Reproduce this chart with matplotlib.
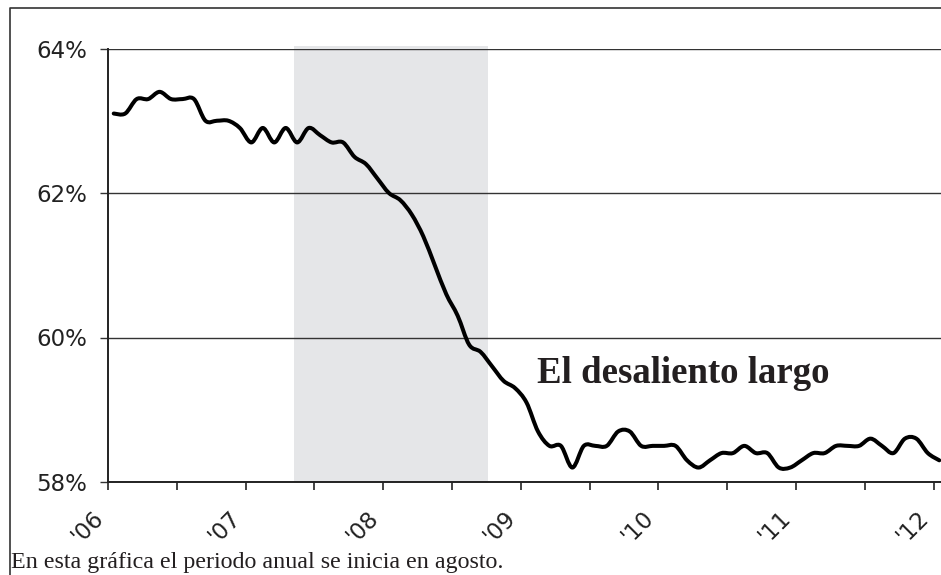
import numpy as np
import matplotlib
matplotlib.use("Agg")
import matplotlib.pyplot as plt
from matplotlib.lines import Line2D
from matplotlib.path import Path
from matplotlib.patches import PathPatch

# Employment-population ratio (%), monthly, Aug 2006 .. Aug 2012
values = [63.1, 63.1, 63.3, 63.3, 63.4, 63.3, 63.3, 63.3, 63.0, 63.0, 63.0, 62.9,
          62.7, 62.9, 62.7, 62.9, 62.7, 62.9, 62.8, 62.7, 62.7, 62.5, 62.4, 62.2,
          62.0, 61.9, 61.7, 61.4, 61.0, 60.6, 60.3, 59.9, 59.8, 59.6, 59.4, 59.3,
          59.1, 58.7, 58.5, 58.5, 58.2, 58.5, 58.5, 58.5, 58.7, 58.7, 58.5, 58.5,
          58.5, 58.5, 58.3, 58.2, 58.3, 58.4, 58.4, 58.5, 58.4, 58.4, 58.2, 58.2,
          58.3, 58.4, 58.4, 58.5, 58.5, 58.5, 58.6, 58.5, 58.4, 58.6, 58.6, 58.4,
          58.3]
year_labels = ["'06", "'07", "'08", "'09", "'10", "'11", "'12"]
y_ticks = [58, 60, 62, 64]
recession = (16.2, 33.1)  # months since Aug 2006

months = np.arange(len(values)) + 0.5
vals = np.asarray(values, dtype=float)

W, H = 941, 575
fig = plt.figure(figsize=(W / 100, H / 100), dpi=100)
ax = fig.add_axes([108 / W, 1 - 482 / H, (W - 108) / W, (482 - 48.5) / H])

ax.axvspan(recession[0], recession[1], ymin=0, ymax=1.006, color="#e5e6e8",
           lw=0, zorder=0, clip_on=False)

# smoothed line (Excel-style): cubic Bezier segments through every data point
pts = np.column_stack([months, vals])
ext = np.vstack([pts[0], pts, pts[-1]])
verts = [tuple(pts[0])]
codes = [Path.MOVETO]
for i in range(len(pts) - 1):
    p0, p1, p2, p3 = ext[i], ext[i + 1], ext[i + 2], ext[i + 3]
    c1 = p1 + (p2 - p0) / 6.0
    c2 = p2 - (p3 - p1) / 6.0
    verts += [tuple(c1), tuple(c2), tuple(p2)]
    codes += [Path.CURVE4, Path.CURVE4, Path.CURVE4]
curve = PathPatch(Path(verts, codes), facecolor="none", edgecolor="black",
                  lw=2.9, joinstyle="round", capstyle="round", zorder=3,
                  transform=ax.transData)
ax.add_patch(curve)

ax.set_xlim(0, 72.65)
ax.set_ylim(58, 64)

ax.set_yticks(y_ticks)
ax.set_yticklabels([f"{v}%" for v in y_ticks], fontsize=16.5, family="DejaVu Sans",
                   color="#222222")
ax.yaxis.grid(True, color="#333333", lw=1.0)
ax.set_axisbelow(True)

ax.set_xticks(np.arange(0, 73, 12))
ax.set_xticks(np.arange(6, 73, 12), minor=True)
ax.set_xticklabels(year_labels, rotation=45, ha="right", fontsize=16.5,
                   family="DejaVu Sans", color="#222222")
ax.tick_params(axis="x", which="both", direction="out", length=5.5, width=1.2,
               color="#222222", pad=12)
ax.tick_params(axis="y", direction="out", length=5.8, width=1.0, color="#333333",
               pad=9)

for s in ["top", "right"]:
    ax.spines[s].set_visible(False)
ax.spines["left"].set_color("#222222")
ax.spines["left"].set_linewidth(1.4)
ax.spines["bottom"].set_color("#222222")
ax.spines["bottom"].set_linewidth(1.4)

fig.text(537 / W, 1 - 383 / H, "El desaliento largo", family="Liberation Serif",
         fontweight="bold", fontsize=26.5, color="#231f20", va="baseline", ha="left")
fig.text(11 / W, 1 - 568 / H, "En esta gráfica el periodo anual se inicia en agosto.",
         family="Liberation Serif", fontsize=17.3, color="#231f20", va="baseline",
         ha="left")

fx = 9.5 / W
fy = 1 - 7.5 / H
fig.add_artist(Line2D([fx, fx, 1], [0, fy, fy], transform=fig.transFigure,
                      color="#333333", lw=1.2))

fig.savefig("out.png", dpi=100)
